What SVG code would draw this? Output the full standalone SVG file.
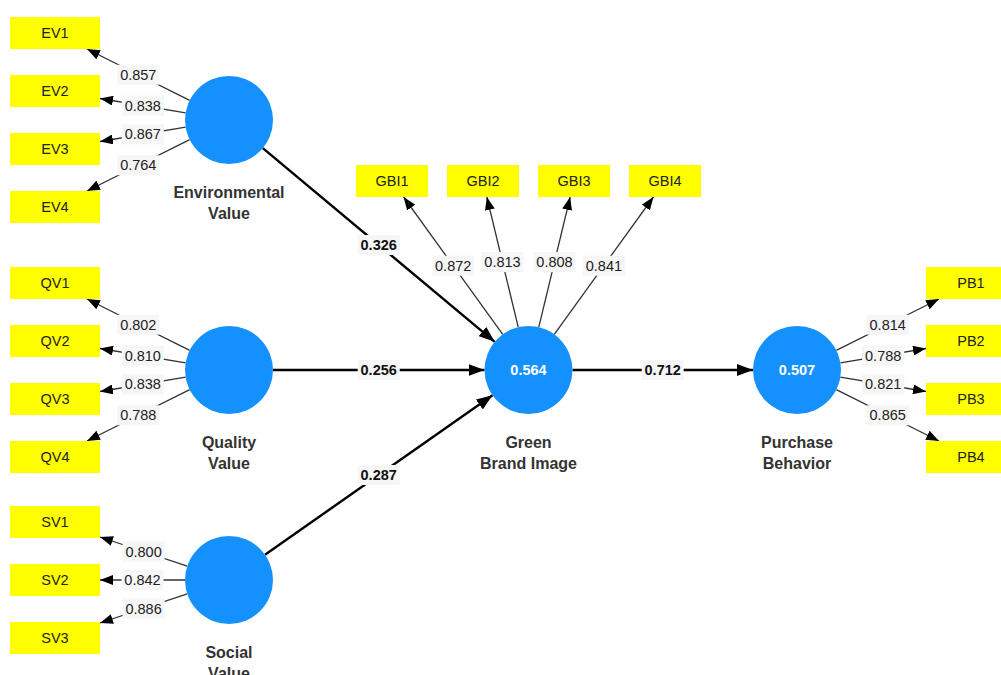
<svg xmlns="http://www.w3.org/2000/svg" width="1001" height="675" viewBox="0 0 1001 675">
<style>
.box{fill:#ffff00}
.bt{font-family:"Liberation Sans",Arial,sans-serif;font-size:14.5px;fill:#222;text-anchor:middle}
.lv{fill:#1591ff}
.lvv{font-family:"Liberation Sans",Arial,sans-serif;font-size:14.5px;font-weight:bold;fill:#fff;text-anchor:middle}
.nm{font-family:"Liberation Sans",Arial,sans-serif;font-size:16px;font-weight:bold;fill:#333;text-anchor:middle}
.il{stroke:#333;stroke-width:1.3;fill:none}
.sl{stroke:#000;stroke-width:2.4;fill:none}
.lb{fill:#f6f6f6}
.lt{font-family:"Liberation Sans",Arial,sans-serif;font-size:14.5px;fill:#222;text-anchor:middle}
.st{font-family:"Liberation Sans",Arial,sans-serif;font-size:14.5px;font-weight:bold;fill:#111;text-anchor:middle}
</style>
<defs>
<marker id="ah" markerUnits="userSpaceOnUse" markerWidth="13" markerHeight="10" refX="13" refY="5" orient="auto"><path d="M0,0 L13,5 L0,10 z" fill="#000"/></marker>
<marker id="ahs" markerUnits="userSpaceOnUse" markerWidth="16" markerHeight="12" refX="16" refY="6" orient="auto"><path d="M0,0 L16,6 L0,12 z" fill="#000"/></marker>
</defs>
<rect width="1001" height="675" fill="#fff"/>

<g id="connectors">
<path class="il" d="M189.65,100.32 L87,49" marker-end="url(#ah)"/>
<path class="il" d="M185.6,112.77 L100,98.5" marker-end="url(#ah)"/>
<path class="il" d="M185.6,127.23 L100,141.5" marker-end="url(#ah)"/>
<path class="il" d="M189.65,139.68 L87,191" marker-end="url(#ah)"/>
<path class="il" d="M189.65,350.32 L87,299" marker-end="url(#ah)"/>
<path class="il" d="M185.6,362.77 L100,348.5" marker-end="url(#ah)"/>
<path class="il" d="M185.6,377.23 L100,391.5" marker-end="url(#ah)"/>
<path class="il" d="M189.65,389.68 L87,441" marker-end="url(#ah)"/>
<path class="il" d="M187.26,566.09 L100,537" marker-end="url(#ah)"/>
<path class="il" d="M185,580 L100,580" marker-end="url(#ah)"/>
<path class="il" d="M187.26,593.91 L100,623" marker-end="url(#ah)"/>
<path class="il" d="M502.73,334.32 L403.6,197" marker-end="url(#ah)"/>
<path class="il" d="M518.2,327.22 L486.85,197" marker-end="url(#ah)"/>
<path class="il" d="M538.8,327.22 L570.15,197" marker-end="url(#ah)"/>
<path class="il" d="M554.27,334.32 L653.44,197" marker-end="url(#ah)"/>
<path class="il" d="M836.35,350.32 L939,299" marker-end="url(#ah)"/>
<path class="il" d="M840.4,362.77 L926,348.5" marker-end="url(#ah)"/>
<path class="il" d="M840.4,377.23 L926,391.5" marker-end="url(#ah)"/>
<path class="il" d="M836.35,389.68 L939,441" marker-end="url(#ah)"/>
<path class="sl" d="M262.8,148.2 L494.7,341.8" marker-end="url(#ahs)"/>
<path class="sl" d="M273,370 L484.5,370" marker-end="url(#ahs)"/>
<path class="sl" d="M265,554.7 L492.5,395.3" marker-end="url(#ahs)"/>
<path class="sl" d="M572.5,370 L753,370" marker-end="url(#ahs)"/>

<g>
<rect class="lb" x="117.3" y="64.7" width="42" height="20"/><text class="lt" x="138.3" y="79.7">0.857</text>
<rect class="lb" x="121.8" y="95.6" width="42" height="20"/><text class="lt" x="142.8" y="110.6">0.838</text>
<rect class="lb" x="121.8" y="124.4" width="42" height="20"/><text class="lt" x="142.8" y="139.4">0.867</text>
<rect class="lb" x="117.3" y="155.3" width="42" height="20"/><text class="lt" x="138.3" y="170.3">0.764</text>
<rect class="lb" x="117.3" y="314.7" width="42" height="20"/><text class="lt" x="138.3" y="329.7">0.802</text>
<rect class="lb" x="121.8" y="345.6" width="42" height="20"/><text class="lt" x="142.8" y="360.6">0.810</text>
<rect class="lb" x="121.8" y="374.4" width="42" height="20"/><text class="lt" x="142.8" y="389.4">0.838</text>
<rect class="lb" x="117.3" y="405.3" width="42" height="20"/><text class="lt" x="138.3" y="420.3">0.788</text>
<rect class="lb" x="122.6" y="541.5" width="42" height="20"/><text class="lt" x="143.6" y="556.5">0.800</text>
<rect class="lb" x="121.5" y="570" width="42" height="20"/><text class="lt" x="142.5" y="585">0.842</text>
<rect class="lb" x="122.6" y="598.5" width="42" height="20"/><text class="lt" x="143.6" y="613.5">0.886</text>
<rect class="lb" x="432.2" y="255.7" width="42" height="20"/><text class="lt" x="453.2" y="270.7">0.872</text>
<rect class="lb" x="481.5" y="252.1" width="42" height="20"/><text class="lt" x="502.5" y="267.1">0.813</text>
<rect class="lb" x="533.5" y="252.1" width="42" height="20"/><text class="lt" x="554.5" y="267.1">0.808</text>
<rect class="lb" x="582.9" y="255.7" width="42" height="20"/><text class="lt" x="603.9" y="270.7">0.841</text>
<rect class="lb" x="866.7" y="314.7" width="42" height="20"/><text class="lt" x="887.7" y="329.7">0.814</text>
<rect class="lb" x="862.2" y="345.6" width="42" height="20"/><text class="lt" x="883.2" y="360.6">0.788</text>
<rect class="lb" x="862.2" y="374.4" width="42" height="20"/><text class="lt" x="883.2" y="389.4">0.821</text>
<rect class="lb" x="866.7" y="405.3" width="42" height="20"/><text class="lt" x="887.7" y="420.3">0.865</text>
<rect class="lb" x="357.7" y="235" width="42" height="20"/><text class="st" x="378.7" y="250">0.326</text>
<rect class="lb" x="357.7" y="360" width="42" height="20"/><text class="st" x="378.7" y="375">0.256</text>
<rect class="lb" x="357.7" y="465" width="42" height="20"/><text class="st" x="378.7" y="480">0.287</text>
<rect class="lb" x="641.7" y="360" width="42" height="20"/><text class="st" x="662.7" y="375">0.712</text>
</g>
</g>

<g id="EV1"><rect class="box" x="10" y="17" width="90" height="32"/><text class="bt" x="55" y="38">EV1</text></g>
<g id="EV2"><rect class="box" x="10" y="75" width="90" height="32"/><text class="bt" x="55" y="96">EV2</text></g>
<g id="EV3"><rect class="box" x="10" y="133" width="90" height="32"/><text class="bt" x="55" y="154">EV3</text></g>
<g id="EV4"><rect class="box" x="10" y="191" width="90" height="32"/><text class="bt" x="55" y="212">EV4</text></g>
<g id="QV1"><rect class="box" x="10" y="267" width="90" height="32"/><text class="bt" x="55" y="288">QV1</text></g>
<g id="QV2"><rect class="box" x="10" y="325" width="90" height="32"/><text class="bt" x="55" y="346">QV2</text></g>
<g id="QV3"><rect class="box" x="10" y="383" width="90" height="32"/><text class="bt" x="55" y="404">QV3</text></g>
<g id="QV4"><rect class="box" x="10" y="441" width="90" height="32"/><text class="bt" x="55" y="462">QV4</text></g>
<g id="SV1"><rect class="box" x="10" y="506" width="90" height="32"/><text class="bt" x="55" y="527">SV1</text></g>
<g id="SV2"><rect class="box" x="10" y="564" width="90" height="32"/><text class="bt" x="55" y="585">SV2</text></g>
<g id="SV3"><rect class="box" x="10" y="622" width="90" height="32"/><text class="bt" x="55" y="643">SV3</text></g>
<g id="GBI1"><rect class="box" x="356" y="165" width="72" height="32"/><text class="bt" x="392" y="186">GBI1</text></g>
<g id="GBI2"><rect class="box" x="447" y="165" width="72" height="32"/><text class="bt" x="483" y="186">GBI2</text></g>
<g id="GBI3"><rect class="box" x="538" y="165" width="72" height="32"/><text class="bt" x="574" y="186">GBI3</text></g>
<g id="GBI4"><rect class="box" x="629" y="165" width="72" height="32"/><text class="bt" x="665" y="186">GBI4</text></g>
<g id="PB1"><rect class="box" x="926" y="267" width="90" height="32"/><text class="bt" x="971" y="288">PB1</text></g>
<g id="PB2"><rect class="box" x="926" y="325" width="90" height="32"/><text class="bt" x="971" y="346">PB2</text></g>
<g id="PB3"><rect class="box" x="926" y="383" width="90" height="32"/><text class="bt" x="971" y="404">PB3</text></g>
<g id="PB4"><rect class="box" x="926" y="441" width="90" height="32"/><text class="bt" x="971" y="462">PB4</text></g>

<g id="EnvironmentalValue"><circle class="lv" cx="229" cy="120" r="44"/><text class="nm" x="229" y="198">Environmental</text><text class="nm" x="229" y="219">Value</text></g>
<g id="QualityValue"><circle class="lv" cx="229" cy="370" r="44"/><text class="nm" x="229" y="448">Quality</text><text class="nm" x="229" y="469">Value</text></g>
<g id="SocialValue"><circle class="lv" cx="229" cy="580" r="44"/><text class="nm" x="229" y="658">Social</text><text class="nm" x="229" y="679">Value</text></g>
<g id="GreenBrandImage"><circle class="lv" cx="528.5" cy="370" r="44"/><text class="lvv" x="528.5" y="375">0.564</text><text class="nm" x="528.5" y="448">Green</text><text class="nm" x="528.5" y="469">Brand Image</text></g>
<g id="PurchaseBehavior"><circle class="lv" cx="797" cy="370" r="44"/><text class="lvv" x="797" y="375">0.507</text><text class="nm" x="797" y="448">Purchase</text><text class="nm" x="797" y="469">Behavior</text></g>
</svg>
